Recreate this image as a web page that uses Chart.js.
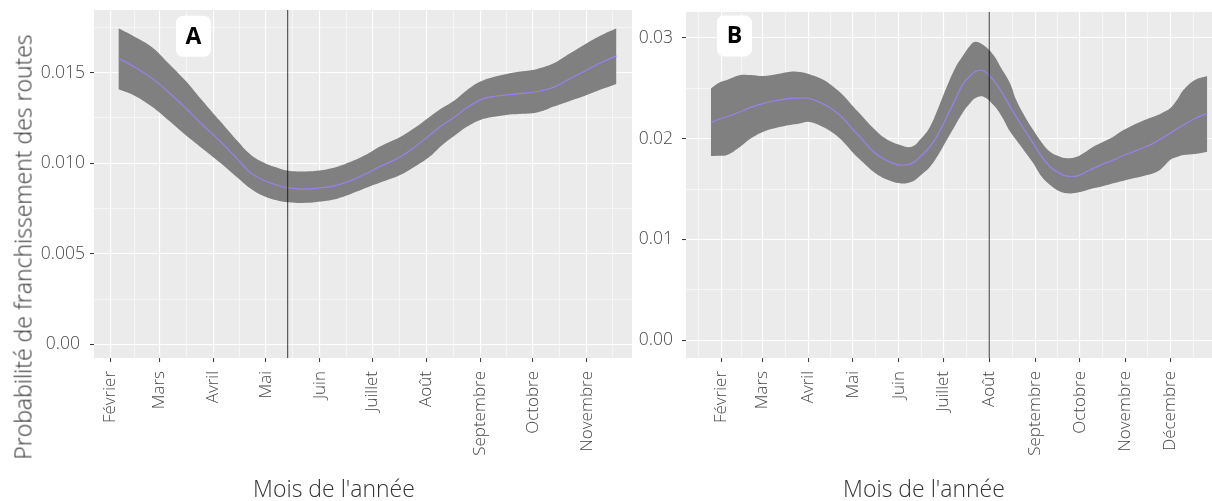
<!DOCTYPE html>
<html>
<head>
<meta charset="utf-8">
<script src="https://cdn.jsdelivr.net/npm/chart.js@4/dist/chart.umd.min.js"></script>
<style>
  html, body { margin: 0; padding: 0; background: #fff; overflow: hidden; width: 1212px; height: 501px; }
  .panel { position: absolute; top: 0; }
  #panelA { left: 0; width: 632px; height: 501px; }
  #panelB { left: 632px; width: 580px; height: 501px; }
  .axis-title { position: absolute; font-family: 'Open Sans', sans-serif; font-weight: 300; color: #333; font-size: 23px; line-height: 23px; white-space: nowrap; }
  #yTitle { left: 22.8px; top: 246.5px; transform: translate(-50%, -50%) rotate(-90deg); }
  #xTitleA { left: 334px; top: 476.6px; transform: translateX(-50%); }
  #xTitleB { left: 924px; top: 476.6px; transform: translateX(-50%); }
</style>
</head>
<body>
<div class="panel" id="panelA"><canvas id="chartA" width="632" height="501"></canvas></div>
<div class="panel" id="panelB"><canvas id="chartB" width="580" height="501"></canvas></div>
<div class="axis-title" id="yTitle">Probabilité de franchissement des routes</div>
<div class="axis-title" id="xTitleA">Mois de l'année</div>
<div class="axis-title" id="xTitleB">Mois de l'année</div>

<script>
// ---- Calendar (day of year, non-leap) ----
const MONTH_NAMES = ['Janvier', 'Février', 'Mars', 'Avril', 'Mai', 'Juin', 'Juillet',
                     'Août', 'Septembre', 'Octobre', 'Novembre', 'Décembre'];
const MONTH_START = [1, 32, 60, 91, 121, 152, 182, 213, 244, 274, 305, 335, 366];

// ---- Panel A: smoothed probability with confidence band ----
const A_DAYS  = [36.5, 45, 55.6, 65, 75, 83.3, 95, 105, 112, 120, 128, 134, 142, 150, 160, 170, 179, 187,
                 198, 207, 215, 222, 229.5, 236, 244, 251, 259, 266, 274, 280, 286, 295, 305, 313, 322];
const A_FIT   = [0.0158, 0.01535, 0.0147, 0.01395, 0.01305, 0.01225, 0.0112, 0.0102, 0.0095, 0.00905,
                 0.00878, 0.00864, 0.00858, 0.00862, 0.00875, 0.00906, 0.00945, 0.00985, 0.01035, 0.01095,
                 0.01156, 0.0121, 0.01257, 0.01305, 0.0135, 0.01368, 0.01377, 0.01385, 0.01392, 0.01403,
                 0.0142, 0.01465, 0.01515, 0.01555, 0.01593];
const A_UPPER = [0.01745, 0.01703, 0.01642, 0.01554, 0.01455, 0.0136, 0.0123, 0.0112, 0.0105, 0.01003,
                 0.00974, 0.00959, 0.00955, 0.00959, 0.00976, 0.0101, 0.0105, 0.01095, 0.01145, 0.012,
                 0.01257, 0.01305, 0.0135, 0.01402, 0.01451, 0.01475, 0.01493, 0.01505, 0.01515, 0.0153,
                 0.01552, 0.01605, 0.01663, 0.01705, 0.01745];
const A_LOWER = [0.01409, 0.01377, 0.01313, 0.01239, 0.01156, 0.01092, 0.01002, 0.00919, 0.00862, 0.00818,
                 0.00794, 0.00785, 0.00781, 0.00786, 0.008, 0.00832, 0.00866, 0.00895, 0.00935, 0.00985,
                 0.01037, 0.011, 0.01155, 0.012, 0.01239, 0.01255, 0.01267, 0.01272, 0.01276, 0.0129,
                 0.01313, 0.01343, 0.01377, 0.01407, 0.01438];
const A_MARK_DAY = 133.5;
const A_Y_BREAKS = [0, 0.005, 0.010, 0.015];
const A_Y_LABELS = ['0.00', '0.005', '0.010', '0.015'];
const A_Y_MINOR  = [0.0025, 0.0075, 0.0125, 0.0175];
const A_X_RANGE = [22.5, 330.9];
const A_Y_RANGE = [-0.000745, 0.01846];

// ---- Panel B ----
const B_DAYS  = [25.1, 30, 35.9, 44.9, 52, 60.6, 70, 78.6, 85, 91, 100, 107.8, 115, 121.3, 128, 134.8, 143,
                 152.8, 160.7, 167, 173, 179, 184.3, 190, 195.5, 200, 203.4, 209, 215.8, 221, 227, 231.2,
                 237, 242.7, 248, 254, 260, 265.2, 272, 277, 283.2, 290, 296.7, 303, 310.2, 317, 323.7,
                 329, 335, 340, 344, 351.8, 360.1];
const B_FIT   = [0.02157, 0.0219, 0.02217, 0.02266, 0.0231, 0.0235, 0.0238, 0.02399, 0.024, 0.024, 0.0235,
                 0.02283, 0.0219, 0.02085, 0.0198, 0.0187, 0.0179, 0.01738, 0.01755, 0.0183, 0.0192, 0.0206,
                 0.02217, 0.0239, 0.02548, 0.0262, 0.02663, 0.02673, 0.0258, 0.0247, 0.0232, 0.02217,
                 0.0208, 0.01953, 0.0183, 0.01721, 0.0166, 0.01629, 0.01629, 0.0166, 0.01705, 0.0175,
                 0.01788, 0.0183, 0.0187, 0.0191, 0.01953, 0.02, 0.02052, 0.021, 0.02135, 0.022, 0.02251];
const B_UPPER = [0.02498, 0.0255, 0.0258, 0.0263, 0.0263, 0.0262, 0.0264, 0.02663, 0.0266, 0.0264, 0.0259,
                 0.02514, 0.0242, 0.02316, 0.0221, 0.02102, 0.02, 0.01936, 0.0192, 0.02, 0.02118, 0.0232,
                 0.02514, 0.027, 0.02828, 0.0292, 0.0296, 0.02927, 0.02828, 0.027, 0.0255, 0.02382,
                 0.0222, 0.02085, 0.0197, 0.0187, 0.01825, 0.01805, 0.0182, 0.0186, 0.0192, 0.0197,
                 0.02019, 0.0208, 0.02135, 0.0218, 0.02217, 0.0225, 0.023, 0.0239, 0.02481, 0.0258, 0.0262];
const B_LOWER = [0.01827, 0.0183, 0.01837, 0.0192, 0.02, 0.02068, 0.0211, 0.02135, 0.0215, 0.02167, 0.0212,
                 0.02052, 0.0196, 0.01854, 0.0176, 0.01672, 0.016, 0.01557, 0.01573, 0.0164, 0.01721, 0.0185,
                 0.01986, 0.0213, 0.02266, 0.0235, 0.024, 0.02415, 0.02333, 0.0223, 0.0207, 0.01986,
                 0.0187, 0.01755, 0.0163, 0.0154, 0.0148, 0.01458, 0.01464, 0.0148, 0.01507, 0.0153,
                 0.01557, 0.0158, 0.01606, 0.0163, 0.01656, 0.017, 0.01788, 0.0182, 0.01837, 0.01847, 0.0187];
const B_MARK_DAY = 213;
const B_Y_BREAKS = [0, 0.01, 0.02, 0.03];
const B_Y_LABELS = ['0.00', '0.01', '0.02', '0.03'];
const B_Y_MINOR  = [0.005, 0.015, 0.025];
const B_X_RANGE = [8.3, 363.3];
const B_Y_RANGE = [-0.001744, 0.03255];

// ---- Style ----
const FONT = 'Open Sans';
const TICK_COLOR = '#474747';
const PANEL_BG = '#ebebeb';
const BAND_COLOR = '#808080';
const FIT_COLOR = '#9a80ee';
const MARK_COLOR = 'rgba(0,0,0,0.64)';

// month starts are major breaks, mid-month points are minor ones
function monthTicks(lo, hi) {
  const out = [];
  for (let i = 0; i < MONTH_START.length - 1; i++) {
    const s = MONTH_START[i], mid = (MONTH_START[i] + MONTH_START[i + 1]) / 2;
    if (s >= lo && s <= hi) out.push({ value: s, isMajor: true, name: MONTH_NAMES[i] });
    if (mid >= lo && mid <= hi) out.push({ value: mid, isMajor: false, name: '' });
  }
  return out.sort((a, b) => a.value - b.value);
}
function valueTicks(breaks, labels, minors) {
  const out = breaks.map((v, i) => ({ value: v, isMajor: true, name: labels[i] }));
  minors.forEach(v => out.push({ value: v, isMajor: false, name: '' }));
  return out.sort((a, b) => a.value - b.value);
}
const pts = (xs, ys) => xs.map((x, i) => ({ x, y: ys[i] }));

// grey panel background behind the grid
const panelBg = {
  id: 'panelBg',
  beforeDraw(chart) {
    const { ctx, chartArea: a } = chart;
    ctx.save();
    ctx.fillStyle = PANEL_BG;
    ctx.fillRect(a.left, a.top, a.right - a.left, a.bottom - a.top);
    ctx.restore();
  }
};

// panel letter in a white rounded box, placed in data coordinates
const panelTag = {
  id: 'panelTag',
  afterDatasetsDraw(chart, args, opts) {
    if (!opts.text) return;
    const { ctx, scales } = chart;
    const cx = scales.x.getPixelForValue(opts.x);
    const cy = scales.y.getPixelForValue(opts.y);
    const w = 35, h = 41, r = 7;
    ctx.save();
    ctx.fillStyle = '#ffffff';
    ctx.beginPath();
    ctx.roundRect(cx - w / 2, cy - h / 2, w, h, r);
    ctx.fill();
    ctx.fillStyle = '#000000';
    ctx.font = `bold 23px "${FONT}"`;
    ctx.textAlign = 'center';
    ctx.textBaseline = 'middle';
    ctx.fillText(opts.text, cx, cy + 1);
    ctx.restore();
  }
};

function makePanel(canvasId, cfg) {
  const smooth = { tension: 0.4 };
  const datasets = [
    { data: pts(cfg.days, cfg.lower), borderWidth: 0, pointRadius: 0, fill: false, ...smooth, order: 3 },
    { data: pts(cfg.days, cfg.upper), borderWidth: 0, pointRadius: 0, fill: '-1',
      backgroundColor: BAND_COLOR, ...smooth, order: 2 },
    { data: pts(cfg.days, cfg.fit), borderColor: FIT_COLOR, borderWidth: 1.2, pointRadius: 0, fill: false,
      ...smooth, order: 1 },
    { data: [{ x: cfg.mark, y: cfg.yRange[0] }, { x: cfg.mark, y: cfg.yRange[1] }],
      borderColor: MARK_COLOR, borderWidth: 1.2, pointRadius: 0, fill: false, order: 0 }
  ];
  const gridOpts = {
    color: '#ffffff',
    lineWidth: c => (c.tick && c.tick.isMajor ? 1.1 : 0.55),
    tickColor: c => (c.tick && c.tick.isMajor ? '#333333' : 'rgba(0,0,0,0)'),
    tickWidth: 1,
    tickLength: 4,
    drawTicks: true
  };
  return new Chart(document.getElementById(canvasId), {
    type: 'line',
    data: { datasets },
    plugins: [panelBg, panelTag],
    options: {
      responsive: false,
      animation: false,
      devicePixelRatio: 1,
      layout: { padding: { top: cfg.top, left: 0, right: 0, bottom: 0 } },
      plugins: {
        legend: { display: false },
        tooltip: { enabled: false },
        panelTag: { text: cfg.tag, x: cfg.tagX, y: cfg.tagY }
      },
      scales: {
        x: {
          type: 'linear',
          min: cfg.xRange[0], max: cfg.xRange[1],
          afterBuildTicks: s => { s.ticks = monthTicks(cfg.xRange[0], cfg.xRange[1]); },
          ticks: {
            autoSkip: false, minRotation: 90, maxRotation: 90, padding: 9,
            color: TICK_COLOR, font: { family: FONT, size: 17, weight: 300 },
            callback: (v, i, ticks) => ticks[i].name
          },
          grid: gridOpts,
          border: { display: false },
          afterFit: s => { s.height = 143; s.paddingLeft = 0; s.paddingRight = 0; }
        },
        y: {
          type: 'linear',
          min: cfg.yRange[0], max: cfg.yRange[1],
          afterBuildTicks: s => { s.ticks = valueTicks(cfg.yBreaks, cfg.yLabels, cfg.yMinor); },
          ticks: {
            crossAlign: 'center', padding: cfg.yPad,
            color: TICK_COLOR, font: { family: FONT, size: 17.5, weight: 300 },
            callback: (v, i, ticks) => ticks[i].name
          },
          grid: gridOpts,
          border: { display: false },
          afterFit: s => { s.width = cfg.axisWidth; s.paddingTop = 0; s.paddingBottom = 0; }
        }
      }
    }
  });
}

makePanel('chartA', {
  days: A_DAYS, fit: A_FIT, upper: A_UPPER, lower: A_LOWER, mark: A_MARK_DAY,
  xRange: A_X_RANGE, yRange: A_Y_RANGE, yBreaks: A_Y_BREAKS, yLabels: A_Y_LABELS, yMinor: A_Y_MINOR,
  top: 10, axisWidth: 94, yPad: 5, tag: 'A', tagX: 79.5, tagY: 0.01701
});
makePanel('chartB', {
  days: B_DAYS, fit: B_FIT, upper: B_UPPER, lower: B_LOWER, mark: B_MARK_DAY,
  xRange: B_X_RANGE, yRange: B_Y_RANGE, yBreaks: B_Y_BREAKS, yLabels: B_Y_LABELS, yMinor: B_Y_MINOR,
  top: 12, axisWidth: 54, yPad: 9, tag: 'B', tagX: 41, tagY: 0.03018
});
</script>
</body>
</html>
